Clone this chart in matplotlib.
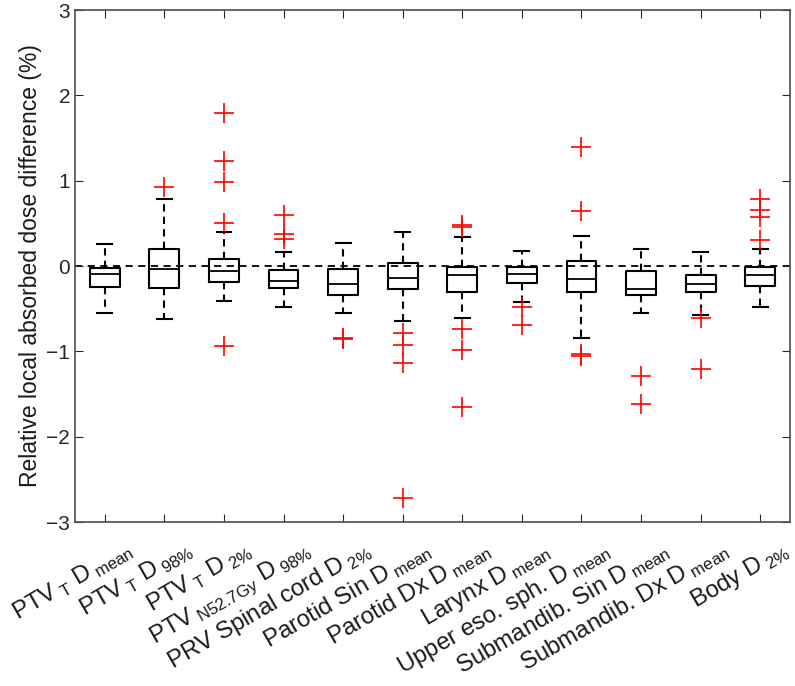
import matplotlib
matplotlib.use('Agg')
import matplotlib.pyplot as plt
from matplotlib.transforms import ScaledTranslation

labels = [
    r"PTV$_\mathregular{\;T}$ D$_\mathregular{\;mean}$",
    r"PTV$_\mathregular{\;T}$ D$_\mathregular{\;98\%}$",
    r"PTV$_\mathregular{\;T}$ D$_\mathregular{\;2\%}$",
    r"PTV$_\mathregular{\;N52.7Gy}$ D$_\mathregular{\;98\%}$",
    r"PRV Spinal cord D$_\mathregular{\;2\%}$",
    r"Parotid Sin D$_\mathregular{\;mean}$",
    r"Parotid Dx D$_\mathregular{\;mean}$",
    r"Larynx D$_\mathregular{\;mean}$",
    r"Upper eso. sph. D$_\mathregular{\;mean}$",
    r"Submandib. Sin D$_\mathregular{\;mean}$",
    r"Submandib. Dx D$_\mathregular{\;mean}$",
    r"Body D$_\mathregular{\;2\%}$",
]
whishi = [0.26, 0.79, 0.395, 0.16, 0.27, 0.395, 0.34, 0.18, 0.35, 0.20, 0.16, 0.20]
q3 = [-0.02, 0.20, 0.08, -0.05, -0.04, 0.035, -0.01, -0.01, 0.06, -0.06, -0.11, -0.01]
med = [-0.09, -0.04, -0.06, -0.18, -0.21, -0.14, -0.10, -0.09, -0.15, -0.27, -0.21, -0.10]
q1 = [-0.25, -0.26, -0.19, -0.26, -0.34, -0.27, -0.30, -0.20, -0.31, -0.34, -0.31, -0.23]
whislo = [-0.55, -0.62, -0.41, -0.48, -0.55, -0.64, -0.61, -0.42, -0.84, -0.55, -0.58, -0.48]
fliers = [
    [],
    [0.93],
    [1.79, 1.23, 0.98, 0.50, -0.94],
    [0.60, 0.38, 0.32],
    [-0.84, -0.86],
    [-0.78, -0.93, -1.14, -2.72],
    [0.485, 0.46, -0.74, -0.99, -1.65],
    [-0.48, -0.69],
    [1.40, 0.64, -1.03, -1.06],
    [-1.29, -1.62],
    [-0.61, -1.21],
    [0.79, 0.66, 0.58, 0.31],
]

plt.rcParams['font.family'] = ['Liberation Sans', 'DejaVu Sans']
plt.rcParams['mathtext.fontset'] = 'custom'
plt.rcParams['mathtext.rm'] = 'Liberation Sans'

stats = [dict(med=m, q1=a, q3=b, whislo=lo, whishi=hi, fliers=f, label=l)
         for m, a, b, lo, hi, f, l in zip(med, q1, q3, whislo, whishi, fliers, labels)]

fig = plt.figure(figsize=(7.95, 6.86), dpi=100)
ax = fig.add_axes([75/795, 1-522/686, 715/795, 512/686])
ax.axhline(0, color='k', ls=(0, (4, 3)), lw=1.3, zorder=1)
ax.bxp(stats, widths=0.5, capwidths=0.25,
       boxprops=dict(color='k', lw=1.5),
       medianprops=dict(color='k', lw=1.3),
       whiskerprops=dict(color='k', lw=1.5, ls=(0, (3.5, 2.5))),
       capprops=dict(color='k', lw=1.5),
       flierprops=dict(marker='+', markeredgecolor='red', markersize=15,
                       markeredgewidth=1.2, linestyle='none'))
ax.set_xlim(0.5, 12.5)
ax.set_ylim(-3, 3)
ax.set_yticks([-3, -2, -1, 0, 1, 2, 3])
ax.tick_params(direction='in', top=True, right=True, length=6, colors='0.15',
               labelsize=15)
ax.set_xticklabels(labels, rotation=30, ha='right', rotation_mode='anchor',
                   fontsize=17.3, color='0.1')
ax.tick_params(axis='x', pad=11)
offset = ScaledTranslation(20/100, 0, fig.dpi_scale_trans)
for t in ax.get_xticklabels():
    t.set_transform(t.get_transform() + offset)
for s in ax.spines.values():
    s.set_color('0.3')
    s.set_linewidth(1.2)
ax.set_ylabel('Relative local absorbed dose difference (%)', fontsize=16.5,
              color='0.1', labelpad=3)
fig.savefig('out.png', dpi=100)
